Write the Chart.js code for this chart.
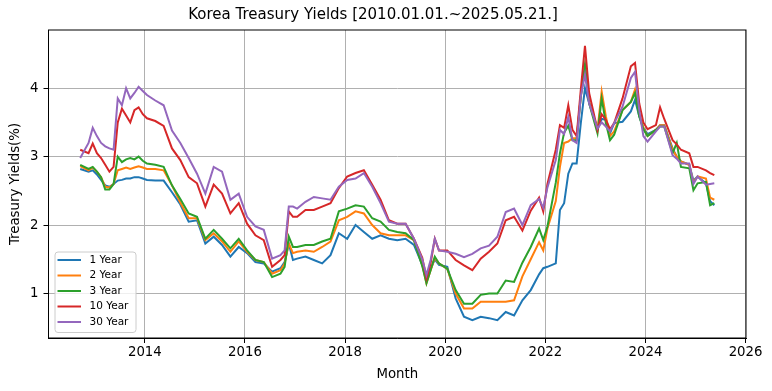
<!DOCTYPE html>
<html>
<head>
<meta charset="utf-8">
<title>Korea Treasury Yields</title>
<script src="https://cdn.jsdelivr.net/npm/chart.js@4.4.0/dist/chart.umd.min.js"></script>
<style>
html, body { margin: 0; padding: 0; background: #fff; }
</style>
</head>
<body>
<canvas id="yields" width="772" height="391"></canvas>
<script>
// month of each reading
const months = [
    '2012-09', '2012-11', '2012-12',
    '2013-01', '2013-02', '2013-03', '2013-04', '2013-05', '2013-06', '2013-07', '2013-08', '2013-09', '2013-10', '2013-11', '2013-12',
    '2014-01', '2014-03', '2014-05', '2014-07', '2014-09', '2014-11',
    '2015-01', '2015-03', '2015-05', '2015-07', '2015-09', '2015-11',
    '2016-01', '2016-03', '2016-05', '2016-07', '2016-09', '2016-10', '2016-11', '2016-12',
    '2017-01', '2017-03', '2017-05', '2017-07', '2017-09', '2017-11',
    '2018-01', '2018-03', '2018-05', '2018-07', '2018-09', '2018-11',
    '2019-01', '2019-03', '2019-05', '2019-07', '2019-08', '2019-09', '2019-10', '2019-11',
    '2020-01', '2020-03', '2020-05', '2020-07', '2020-09', '2020-11',
    '2021-01', '2021-03', '2021-05', '2021-07', '2021-09', '2021-11', '2021-12',
    '2022-01', '2022-03', '2022-04', '2022-05', '2022-06', '2022-07', '2022-08', '2022-09', '2022-10', '2022-11',
    '2023-01', '2023-02', '2023-03', '2023-04', '2023-05', '2023-07', '2023-09', '2023-10', '2023-11', '2023-12',
    '2024-01', '2024-03', '2024-04', '2024-05', '2024-07', '2024-08', '2024-09', '2024-11', '2024-12',
    '2025-01', '2025-03', '2025-04', '2025-05'
];

const year1 = [
    2.82, 2.78, 2.80,
    2.74, 2.66, 2.58, 2.56, 2.60, 2.65, 2.66, 2.68, 2.68, 2.70, 2.70, 2.68,
    2.66, 2.65, 2.65, 2.48, 2.30, 2.05,
    2.07, 1.73, 1.83, 1.71, 1.54, 1.68,
    1.59, 1.46, 1.44, 1.32, 1.37, 1.46, 1.73, 1.49,
    1.51, 1.54, 1.49, 1.44, 1.56, 1.88,
    1.80, 2.00, 1.90, 1.80, 1.85, 1.80,
    1.78, 1.80, 1.71, 1.42, 1.19, 1.36, 1.50, 1.42,
    1.39, 0.93, 0.66, 0.61, 0.66, 0.64,
    0.61, 0.73, 0.68, 0.90, 1.05, 1.28, 1.37,
    1.39, 1.44, 2.22, 2.32, 2.75, 2.90, 2.90, 3.49, 4.00, 3.78,
    3.41, 3.55, 3.54, 3.34, 3.49, 3.51, 3.66, 3.83, 3.59, 3.42,
    3.33, 3.39, 3.46, 3.46, 3.12, 3.00, 2.93, 2.88, 2.65,
    2.71, 2.61, 2.35, 2.29
];
const year2 = [
    2.86, 2.80, 2.84,
    2.78, 2.70, 2.56, 2.55, 2.60, 2.80, 2.82, 2.84, 2.82, 2.84, 2.86, 2.84,
    2.82, 2.82, 2.80, 2.58, 2.33, 2.10,
    2.10, 1.78, 1.88, 1.76, 1.61, 1.76,
    1.61, 1.49, 1.46, 1.29, 1.34, 1.44, 1.73, 1.59,
    1.61, 1.63, 1.61, 1.68, 1.76, 2.07,
    2.12, 2.20, 2.17, 2.00, 1.88, 1.85,
    1.85, 1.85, 1.78, 1.42, 1.15, 1.34, 1.52, 1.44,
    1.36, 1.00, 0.78, 0.78, 0.88, 0.88,
    0.88, 0.88, 0.90, 1.25, 1.50, 1.75, 1.63,
    1.95, 2.35, 2.85, 3.20, 3.22, 3.27, 3.27, 3.88, 4.30, 3.80,
    3.39, 3.95, 3.59, 3.30, 3.37, 3.68, 3.80, 3.98, 3.63, 3.42,
    3.30, 3.39, 3.46, 3.46, 3.10, 3.00, 2.93, 2.88, 2.62,
    2.71, 2.68, 2.40, 2.37
];
const year3 = [
    2.88, 2.82, 2.85,
    2.78, 2.70, 2.52, 2.52, 2.60, 3.00, 2.92, 2.96, 2.98, 2.96, 3.00, 2.94,
    2.90, 2.88, 2.85, 2.58, 2.38, 2.17,
    2.12, 1.80, 1.93, 1.80, 1.66, 1.80,
    1.63, 1.49, 1.46, 1.24, 1.29, 1.39, 1.83, 1.68,
    1.68, 1.71, 1.71, 1.76, 1.80, 2.20,
    2.24, 2.29, 2.27, 2.10, 2.05, 1.93,
    1.90, 1.88, 1.78, 1.40, 1.15, 1.34, 1.54, 1.44,
    1.36, 1.05, 0.85, 0.85, 0.98, 1.00,
    1.00, 1.19, 1.17, 1.45, 1.68, 1.95, 1.78,
    1.98, 2.62, 3.05, 3.35, 3.45, 3.24, 3.24, 3.88, 4.35, 3.78,
    3.34, 3.85, 3.49, 3.24, 3.32, 3.68, 3.80, 3.93, 3.59, 3.40,
    3.30, 3.39, 3.44, 3.44, 3.05, 3.20, 2.85, 2.83, 2.51,
    2.61, 2.63, 2.29, 2.32
];
const year10 = [
    3.10, 3.05, 3.19,
    3.05, 2.98, 2.88, 2.78, 2.85, 3.50, 3.70, 3.60, 3.50, 3.68, 3.72, 3.62,
    3.56, 3.52, 3.45, 3.12, 2.95, 2.70,
    2.61, 2.27, 2.59, 2.46, 2.17, 2.32,
    2.02, 1.85, 1.78, 1.39, 1.49, 1.56, 2.20, 2.12,
    2.12, 2.22, 2.22, 2.27, 2.32, 2.54,
    2.71, 2.76, 2.80, 2.59, 2.37, 2.07,
    2.02, 2.02, 1.80, 1.52, 1.22, 1.44, 1.80, 1.63,
    1.63, 1.49, 1.41, 1.34, 1.51, 1.61,
    1.73, 2.07, 2.12, 1.92, 2.21, 2.40, 2.20,
    2.60, 3.10, 3.46, 3.42, 3.75, 3.39, 3.30, 3.98, 4.62, 3.93,
    3.39, 3.62, 3.54, 3.40, 3.49, 3.85, 4.32, 4.37, 3.78, 3.50,
    3.40, 3.46, 3.72, 3.55, 3.24, 3.18, 3.10, 3.05, 2.85,
    2.85, 2.80, 2.76, 2.73
];
const year30 = [
    2.98, 3.20, 3.42,
    3.30, 3.20, 3.15, 3.12, 3.10, 3.85, 3.75, 4.00, 3.85, 3.93, 4.02, 3.96,
    3.90, 3.82, 3.75, 3.38, 3.20, 2.98,
    2.75, 2.46, 2.85, 2.78, 2.37, 2.46,
    2.12, 1.98, 1.93, 1.51, 1.56, 1.63, 2.27, 2.27,
    2.24, 2.34, 2.41, 2.39, 2.37, 2.56,
    2.66, 2.68, 2.76, 2.56, 2.32, 2.05,
    2.02, 2.02, 1.80, 1.50, 1.27, 1.49, 1.80, 1.63,
    1.61, 1.58, 1.53, 1.58, 1.66, 1.70,
    1.83, 2.19, 2.24, 2.00, 2.29, 2.38, 2.25,
    2.55, 2.95, 3.39, 3.33, 3.58, 3.24, 3.20, 3.88, 4.20, 3.78,
    3.41, 3.50, 3.44, 3.37, 3.49, 3.73, 4.15, 4.24, 3.68, 3.30,
    3.22, 3.37, 3.44, 3.44, 3.02, 2.97, 2.90, 2.90, 2.60,
    2.71, 2.59, 2.60, 2.61
];

const seriesNames = ['1 Year', '2 Year', '3 Year', '10 Year', '30 Year'];
const seriesColors = ['#1f77b4', '#ff7f0e', '#2ca02c', '#d62728', '#9467bd'];
const xTickValues = [2014, 2016, 2018, 2020, 2022, 2024, 2026];
const yTickValues = [1, 2, 3, 4];

// 'YYYY-MM' -> decimal year (middle of the month)
function toYear(m) {
    const parts = m.split('-');
    return Number(parts[0]) + (Number(parts[1]) - 0.5) / 12;
}
const xs = months.map(toYear);
const span = xs[xs.length - 1] - xs[0];

const allSeries = [year1, year2, year3, year10, year30];
const datasets = allSeries.map((vals, i) => ({
    label: seriesNames[i],
    data: vals.map((v, j) => ({x: xs[j], y: v})),
    borderColor: seriesColors[i],
    backgroundColor: seriesColors[i],
    borderWidth: 2,
    pointRadius: 0,
    tension: 0,
    order: 5 - i
}));

// box around the axes + matplotlib-like legend in the lower left
const framePlugin = {
    id: 'frameAndLegend',
    afterDatasetsDraw(chart) {
        const {ctx, chartArea} = chart;
        ctx.save();
        ctx.strokeStyle = '#000';
        ctx.lineWidth = 1;
        ctx.strokeRect(chartArea.left, chartArea.top, chartArea.right - chartArea.left, chartArea.bottom - chartArea.top);

        const bx = chartArea.left + 6;
        const bw = 81;
        const bh = 80.5;
        const by = chartArea.bottom - 6 - bh;
        ctx.beginPath();
        ctx.roundRect(bx + 0.5, by + 0.5, bw, bh, 3);
        ctx.fillStyle = 'rgba(255,255,255,0.8)';
        ctx.fill();
        ctx.strokeStyle = '#cccccc';
        ctx.stroke();

        ctx.font = '10.5px "DejaVu Sans"';
        ctx.textBaseline = 'middle';
        ctx.textAlign = 'left';
        chart.data.datasets.forEach((ds, i) => {
            const yy = by + 8.5 + i * 15.5;
            ctx.beginPath();
            ctx.moveTo(bx + 3, yy);
            ctx.lineTo(bx + 26.5, yy);
            ctx.strokeStyle = ds.borderColor;
            ctx.lineWidth = 2;
            ctx.stroke();
            ctx.fillStyle = '#000';
            ctx.fillText(ds.label, bx + 35, yy);
        });
        ctx.restore();
    }
};

Chart.defaults.font.family = '"DejaVu Sans", sans-serif';
Chart.defaults.color = '#000';

const yieldChart = new Chart(document.getElementById('yields'), {
    type: 'line',
    data: {datasets: datasets},
    options: {
        responsive: false,
        animation: false,
        layout: {padding: {left: 0, right: 26, top: 0, bottom: 0}},
        plugins: {
            legend: {display: false},
            tooltip: {enabled: false},
            title: {
                display: true,
                text: 'Korea Treasury Yields [2010.01.01.~2025.05.21.]',
                font: {size: 15, weight: 'normal'},
                color: '#000',
                padding: {top: 6, bottom: 6}
            }
        },
        scales: {
            x: {
                type: 'linear',
                min: xs[0] - 0.05 * span,
                max: xs[xs.length - 1] + 0.05 * span,
                afterBuildTicks: (scale) => { scale.ticks = xTickValues.map(v => ({value: v})); },
                afterFit: (scale) => { scale.height = 53; },
                ticks: {
                    autoSkip: false,
                    maxRotation: 0,
                    padding: 2,
                    font: {size: 13.3},
                    callback: (v) => String(v)
                },
                grid: {color: '#b0b0b0', lineWidth: 1, tickColor: '#000', tickLength: 5},
                border: {color: '#000', width: 1},
                title: {display: true, text: 'Month', font: {size: 13.3}, padding: {top: 0, bottom: 8}}
            },
            y: {
                min: 0.35,
                max: 4.85,
                afterBuildTicks: (scale) => { scale.ticks = yTickValues.map(v => ({value: v})); },
                afterFit: (scale) => { scale.width = 48.5; },
                ticks: {padding: 5, font: {size: 13.3}, callback: (v) => String(v)},
                grid: {color: '#b0b0b0', lineWidth: 1, tickColor: '#000', tickLength: 5},
                border: {color: '#000', width: 1},
                title: {display: true, text: 'Treasury Yields(%)', font: {size: 13.3}, padding: {top: 8, bottom: 0}}
            }
        }
    },
    plugins: [framePlugin]
});
</script>
</body>
</html>
